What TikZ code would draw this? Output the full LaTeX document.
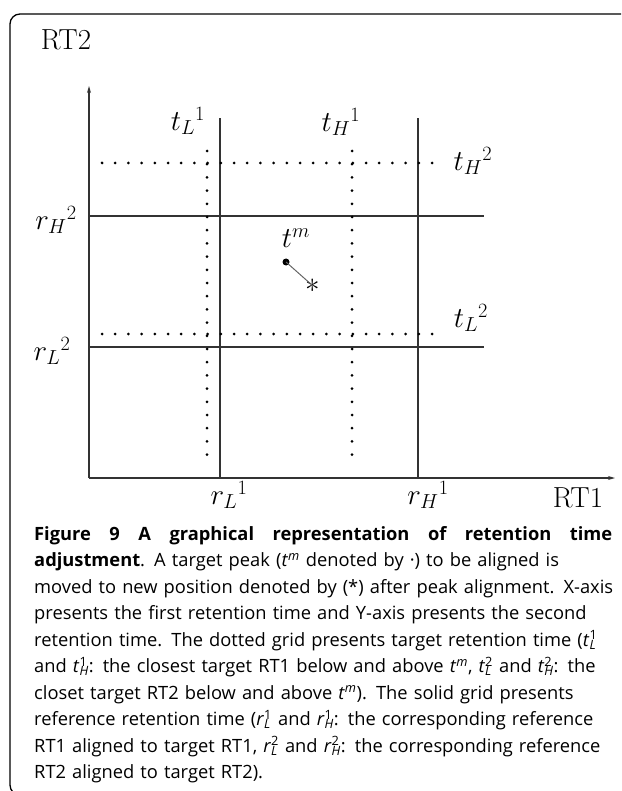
\documentclass[tikz,border=0pt]{standalone}
\usepackage{fix-cm}
\usepackage{fontspec}
\usetikzlibrary{arrows.meta}
\newfontfamily\capfont{Open Sans}
\newcommand{\capsym}[3]{\textit{#1}\ooalign{\textsubscript{\textit{#2}}\cr\textsuperscript{#3}\cr}}
\newcommand{\capsup}[2]{\textit{#1}\textsuperscript{\textit{#2}}}

\begin{document}
\begin{tikzpicture}[x=1pt, y=-1pt,
    every node/.style={font=\fontsize{29}{33}\selectfont, inner sep=0pt},
    gridsolid/.style={line width=1.2pt, black!80},
    griddot/.style={line width=3pt, line cap=round, dash pattern=on 0pt off 13.2pt},
    axisline/.style={-{Stealth[length=7pt, width=4pt]}, line width=1.2pt, black!80}]
    \useasboundingbox (0,0) rectangle (621,791);
    \clip (0,0) rectangle (621,791);
    \draw[line width=1.3pt, rounded corners=10pt] (10,14) rectangle (700,795);

    \coordinate (o) at (89,478);
    \coordinate (ytip) at (89,86);
    \coordinate (xtip) at (615,478);
    \coordinate (rl1b) at (220,478);
    \coordinate (rl1t) at (220,118);
    \coordinate (rh1b) at (418,478);
    \coordinate (rh1t) at (418,118);
    \coordinate (rh2l) at (89,216);
    \coordinate (rh2r) at (484,216);
    \coordinate (rl2l) at (89,347);
    \coordinate (rl2r) at (484,347);
    \coordinate (tl1t) at (207,151);
    \coordinate (tl1b) at (207,465);
    \coordinate (th1t) at (352,151);
    \coordinate (th1b) at (352,465);
    \coordinate (th2l) at (102,163);
    \coordinate (th2r) at (437,163);
    \coordinate (tl2l) at (102,334);
    \coordinate (tl2r) at (437,334);

    \draw[axisline] (o) -- (ytip);
    \draw[axisline] (o) -- (xtip);
    \draw[gridsolid] (rl1b) -- (rl1t);
    \draw[gridsolid] (rh1b) -- (rh1t);
    \draw[gridsolid] (rh2l) -- (rh2r);
    \draw[gridsolid] (rl2l) -- (rl2r);
    \draw[griddot] (tl1t) -- (tl1b);
    \draw[griddot] (th1t) -- (th1b);
    \draw[griddot] (th2l) -- (th2r);
    \draw[griddot] (tl2l) -- (tl2r);

    \node (rt2) at (66,40) {RT2};
    \node (rt1) at (578,498) {RT1};
    \node (tl1) at (188,121) {$t_L{}^1$};
    \node (th1) at (341,122) {$t_H{}^1$};
    \node (th2) at (473,161) {$t_H{}^2$};
    \node (tl2) at (471,318) {$t_L{}^2$};
    \node (rh2) at (56,220) {$r_H{}^2$};
    \node (rl2) at (52,351) {$r_L{}^2$};
    \node (rl1) at (229,495) {$r_L{}^1$};
    \node (rh1) at (428,495) {$r_H{}^1$};
    \node (tm) at (296,238) {$t^m$};
    \node[circle, fill, minimum size=7pt] (pk) at (286,262) {};
    \node (st) at (313,286) {$\ast$};
    \draw[black!60, line width=1pt] (pk.center) -- (st.center);

    \node[anchor=north west, text width=600pt, align=left, font=\capfont\fontsize{18.3}{26.5}\selectfont] (cap) at (34,526) {%
\hbox to 578pt{\spaceskip=0pt\xspaceskip=0pt\bfseries Figure 9 A graphical representation of retention time}\\
\textbf{adjustment}. A target peak (\capsup{t}{m} denoted by ·) to be aligned is\\
moved to new position denoted by (*) after peak alignment. X-axis\\
presents the first retention time and Y-axis presents the second\\
retention time. The dotted grid presents target retention time (\capsym{t}{L}{1}\\
and \capsym{t}{H}{1}: the closest target RT1 below and above \capsup{t}{m}, \capsym{t}{L}{2} and \capsym{t}{H}{2}: the\\
closet target RT2 below and above \capsup{t}{m}). The solid grid presents\\
reference retention time (\capsym{r}{L}{1} and \capsym{r}{H}{1}: the corresponding reference\\
RT1 aligned to target RT1, \capsym{r}{L}{2} and \capsym{r}{H}{2}: the corresponding reference\\
RT2 aligned to target RT2).};
\end{tikzpicture}
\end{document}
